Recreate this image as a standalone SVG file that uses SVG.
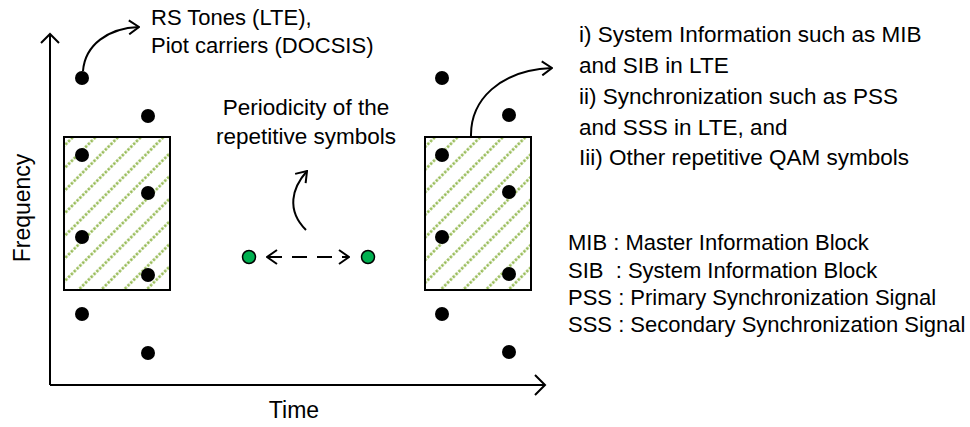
<svg xmlns="http://www.w3.org/2000/svg" width="970" height="427" viewBox="0 0 970 427">
  <style>
    text { font-family: "Liberation Sans", Arial, sans-serif; font-size: 22px; fill: #000; }
    .big { font-size: 22.5px; }
    .axislabel { font-size: 23px; }
    .line { fill: none; stroke: #000; stroke-width: 2; }
    .dot { fill: #000; }
    .gdot { fill: #00b050; stroke: #000; stroke-width: 1.5; }
    .box { fill: url(#hatch); stroke: #000; stroke-width: 2; }
  </style>
  <defs>
    <pattern id="hatch" patternUnits="userSpaceOnUse" width="16" height="16" patternTransform="rotate(-45)">
      <rect width="16" height="16" fill="#fff"/>
      <line x1="0" y1="4.5" x2="16" y2="4.5" stroke="#92b84e" stroke-width="2.3" stroke-dasharray="2.5 1.5"/>
    </pattern>
    <marker id="chev" viewBox="0 0 12 16" markerUnits="userSpaceOnUse" markerWidth="12" markerHeight="16" refX="11" refY="8" orient="auto-start-reverse">
      <path d="M1,1 L11,8 L1,15" fill="none" stroke="#000" stroke-width="2"/>
    </marker>
  </defs>
  <rect width="970" height="427" fill="#fff"/>

  <g id="axes">
    <path class="line" d="M50,385 L50,34"/>
    <path class="line" d="M41,43 L50,34 L59,43"/>
    <path class="line" d="M50,385 L545,385"/>
    <path class="line" d="M535,375 L545,385 L535,395"/>
  </g>

  <g id="block-left">
    <rect class="box" x="64" y="137" width="106" height="153"/>
  </g>
  <g id="block-right">
    <rect class="box" x="425" y="137" width="106" height="153"/>
  </g>

  <g id="pilots-left">
    <circle class="dot" cx="82" cy="78" r="7"/>
    <circle class="dot" cx="148" cy="116" r="7"/>
    <circle class="dot" cx="82" cy="155" r="7"/>
    <circle class="dot" cx="148" cy="193" r="7"/>
    <circle class="dot" cx="82" cy="237" r="7"/>
    <circle class="dot" cx="148" cy="275" r="7"/>
    <circle class="dot" cx="82" cy="314" r="7"/>
    <circle class="dot" cx="148" cy="353" r="7"/>
  </g>
  <g id="pilots-right">
    <circle class="dot" cx="442" cy="78" r="7"/>
    <circle class="dot" cx="509" cy="115" r="7"/>
    <circle class="dot" cx="442" cy="155" r="7"/>
    <circle class="dot" cx="509" cy="192" r="7"/>
    <circle class="dot" cx="442" cy="237" r="7"/>
    <circle class="dot" cx="509" cy="274" r="7"/>
    <circle class="dot" cx="442" cy="314" r="7"/>
    <circle class="dot" cx="509" cy="352" r="7"/>
  </g>
  <g id="period-left">
    <circle class="gdot" cx="249" cy="257" r="6.5"/>
  </g>
  <g id="period-right">
    <circle class="gdot" cx="368" cy="257" r="6.5"/>
  </g>

  <g id="connectors">
    <path class="line" d="M83,71 C85,45 108,28 139,27" marker-end="url(#chev)"/>
    <path class="line" d="M471,137 C470,100 500,70 552,68" marker-end="url(#chev)"/>
    <path class="line" d="M306,230 C286,210 292,188 307,171" marker-end="url(#chev)"/>
    <path class="line" d="M267,257 L349,257" stroke-dasharray="15 10" marker-start="url(#chev)" marker-end="url(#chev)"/>
  </g>

  <g id="label-rs">
    <text x="151" y="25">RS Tones (LTE),</text>
    <text x="151" y="53">Piot carriers (DOCSIS)</text>
  </g>
  <g id="label-periodicity">
    <text class="big" x="306" y="115" text-anchor="middle">Periodicity of the</text>
    <text class="big" x="306" y="144" text-anchor="middle">repetitive symbols</text>
  </g>
  <g id="label-symbols">
    <text class="big" x="579" y="42">i) System Information such as MIB</text>
    <text class="big" x="579" y="73">and SIB in LTE</text>
    <text class="big" x="579" y="104">ii) Synchronization such as PSS</text>
    <text class="big" x="579" y="135">and SSS in LTE, and</text>
    <text class="big" x="579" y="165">Iii) Other repetitive QAM symbols</text>
  </g>
  <g id="legend">
    <text x="568" y="250" xml:space="preserve" style="white-space:pre">MIB : Master Information Block</text>
    <text x="568" y="278" xml:space="preserve" style="white-space:pre">SIB  : System Information Block</text>
    <text x="568" y="305" xml:space="preserve" style="white-space:pre">PSS : Primary Synchronization Signal</text>
    <text x="568" y="332" xml:space="preserve" style="white-space:pre">SSS : Secondary Synchronization Signal</text>
  </g>
  <g id="axis-labels">
    <text class="axislabel" transform="translate(30,208) rotate(-90)" text-anchor="middle">Frequency</text>
    <text class="axislabel" x="294" y="418" text-anchor="middle">Time</text>
  </g>
</svg>
